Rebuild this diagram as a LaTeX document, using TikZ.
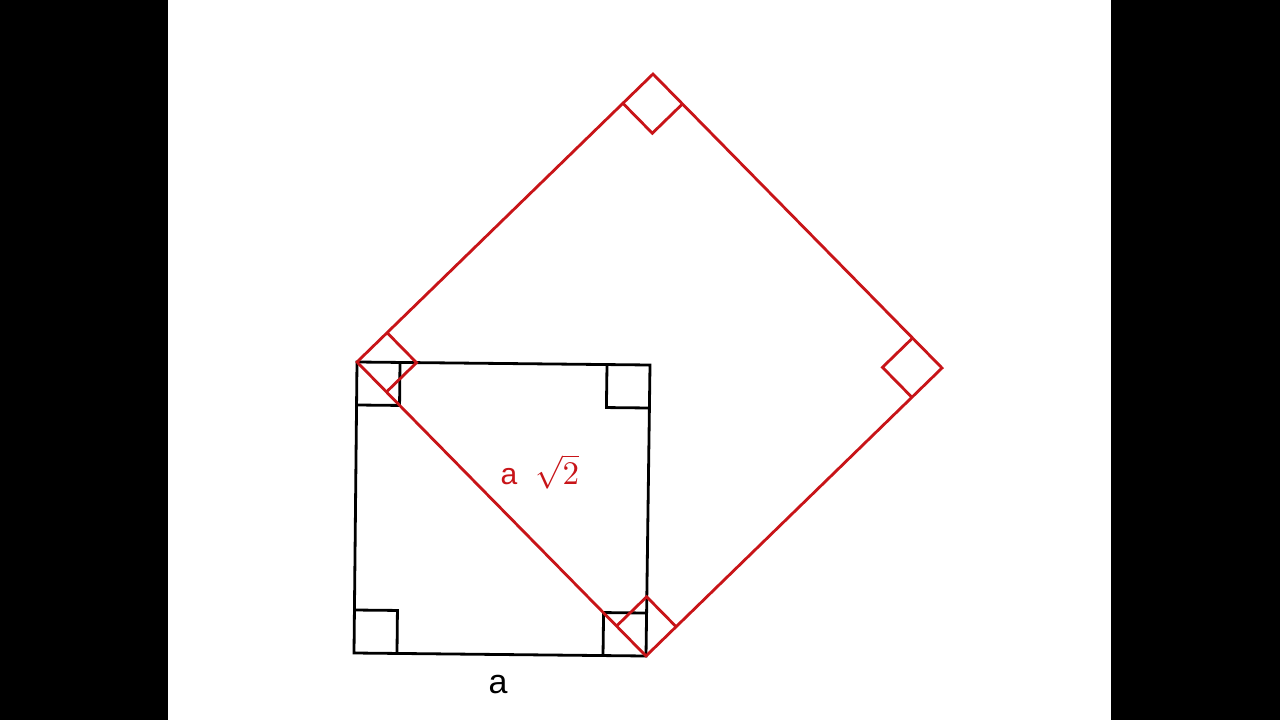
\documentclass[tikz,border=0pt]{standalone}
\usepackage{fontspec}
\setmainfont{Liberation Sans}
\newfontfamily\labfont{Liberation Sans}
\usetikzlibrary{calc}
\definecolor{myred}{RGB}{200,20,24}
\tikzset{
  blk/.style={draw=black, line width=2.8pt, line join=miter},
  rd/.style={draw=myred, line width=2.8pt, line join=miter},
}
\newcommand\rmk[5]{%
  \draw[#5] ($(#1)!#4!(#2)$) -- ($($(#1)!#4!(#2)$)+($(#1)!#4!(#3)$)-(#1)$) -- ($(#1)!#4!(#3)$);}
\begin{document}
\begin{tikzpicture}[x=1pt,y=-1pt]
\useasboundingbox (0,0) rectangle (1280,720);
\fill[white] (0,0) rectangle (1280,720);
\fill[black] (0,0) rectangle (168,720);
\fill[black] (1111,0) rectangle (1280,720);
% black square
\coordinate (TL) at (357,362);
\coordinate (TR) at (650,365);
\coordinate (BR) at (646,656);
\coordinate (BL) at (354,653);
% red square
\coordinate (RT) at (653,74);
\coordinate (RR) at (942,368);
\draw[blk] (TL) -- (TR) -- (BR) -- (BL) -- cycle;
\rmk{TL}{TR}{BL}{43pt}{blk}
\rmk{TR}{TL}{BR}{43pt}{blk}
\rmk{BR}{TR}{BL}{43pt}{blk}
\rmk{BL}{BR}{TL}{43pt}{blk}
\draw[rd] (TL) -- (RT) -- (RR) -- (BR) -- cycle;
\rmk{TL}{RT}{BR}{42pt}{rd}
\rmk{RT}{TL}{RR}{42pt}{rd}
\rmk{RR}{RT}{BR}{42pt}{rd}
\rmk{BR}{RR}{TL}{42pt}{rd}
\node[text=myred, font=\labfont\fontsize{30}{34}\selectfont] (lab) at (509,477) {a};
\node[text=myred] (sq) at (557,472) {\scalebox{3.3}{$\sqrt{2}$}};
\node[text=black, font=\labfont\fontsize{34}{38}\selectfont] (la) at (498,685) {a};
\end{tikzpicture}
\end{document}
